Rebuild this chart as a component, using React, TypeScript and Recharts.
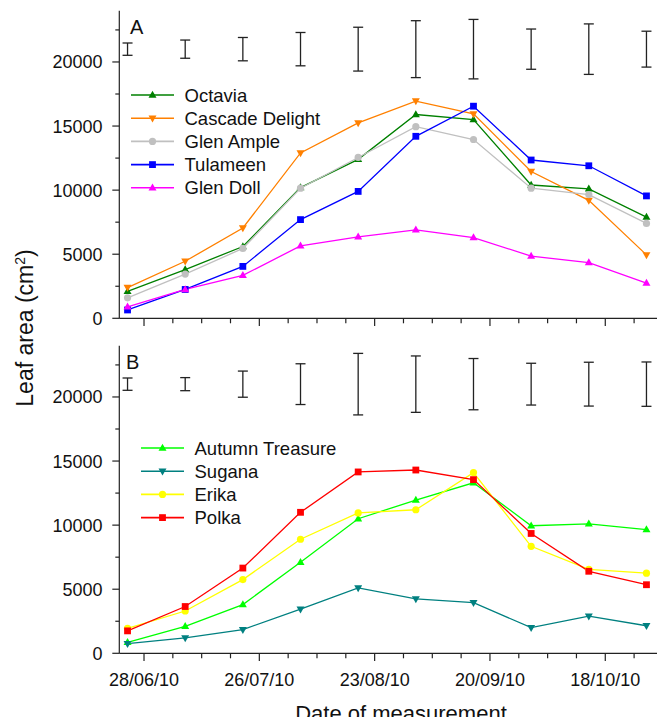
import { ErrorBar, Legend, Line, LineChart, XAxis, YAxis } from 'recharts';

// measurement dates (dd/mm/yy) and the labelled x ticks
const measurementDates = ['24/06/10', '08/07/10', '22/07/10', '05/08/10', '19/08/10', '02/09/10', '16/09/10', '30/09/10', '14/10/10', '28/10/10'];
const majorTickLabels = ['28/06/10', '26/07/10', '23/08/10', '20/09/10', '18/10/10'];

// panel A
const octavia = [2100, 3800, 5600, 10200, 12400, 15900, 15500, 10400, 10100, 7900];
const cascadeDelight = [2400, 4450, 7050, 12900, 15250, 16950, 15950, 11450, 9200, 4950];
const glenAmple = [1600, 3450, 5450, 10150, 12550, 14950, 13950, 10150, 9650, 7400];
const tulameen = [650, 2250, 4050, 7700, 9900, 14200, 16550, 12350, 11900, 9550];
const glenDoll = [900, 2250, 3350, 5650, 6350, 6900, 6300, 4850, 4350, 2750];
const lsdA = [480, 710, 910, 1300, 1710, 2220, 2320, 1570, 1970, 1400];

// panel B
const autumnTreasure = [850, 2100, 3800, 7100, 10500, 11950, 13300, 9950, 10100, 9650];
const sugana = [750, 1200, 1850, 3450, 5100, 4250, 3950, 2000, 2900, 2150];
const erika = [1950, 3300, 5750, 8900, 10950, 11200, 14100, 8350, 6550, 6250];
const polka = [1750, 3650, 6650, 11000, 14150, 14300, 13550, 9350, 6400, 5350];
const lsdB = [480, 510, 1020, 1590, 2400, 2200, 2000, 1630, 1710, 1730];

const lsdCentre = 21000;
const yTicks = [0, 2500, 5000, 7500, 10000, 12500, 15000, 17500, 20000, 22500];

const FONT = '"Liberation Sans", Arial, sans-serif';
const AXIS = '#222';

type Shape = 'up' | 'down' | 'circle' | 'square';
type Series = { name: string; color: string; shape: Shape; values: number[] };

const seriesA: Series[] = [
  { name: 'Octavia', color: '#008000', shape: 'up', values: octavia },
  { name: 'Cascade Delight', color: '#ff8000', shape: 'down', values: cascadeDelight },
  { name: 'Glen Ample', color: '#c0c0c0', shape: 'circle', values: glenAmple },
  { name: 'Tulameen', color: '#0000ff', shape: 'square', values: tulameen },
  { name: 'Glen Doll', color: '#ff00ff', shape: 'up', values: glenDoll },
];

const seriesB: Series[] = [
  { name: 'Autumn Treasure', color: '#00ff00', shape: 'up', values: autumnTreasure },
  { name: 'Sugana', color: '#008080', shape: 'down', values: sugana },
  { name: 'Erika', color: '#ffff00', shape: 'circle', values: erika },
  { name: 'Polka', color: '#ff0000', shape: 'square', values: polka },
];

const toUtc = (s: string) => {
  const [d, m, y] = s.split('/').map(Number);
  return Date.UTC(2000 + y, m - 1, d);
};
const origin = toUtc(majorTickLabels[0]);
const measurementDays = measurementDates.map((s) => Math.round((toUtc(s) - origin) / 86400000));
const xTicks = Array.from({ length: 19 }, (_, i) => i * 7);

function buildRows(series: Series[], lsd: number[]) {
  return measurementDays.map((day, i) => {
    const row: Record<string, number> = { day, lsdCentre, lsd: lsd[i] };
    series.forEach((s) => (row[s.name] = s.values[i]));
    return row;
  });
}

const rowsA = buildRows(seriesA, lsdA);
const rowsB = buildRows(seriesB, lsdB);

function Marker({ shape, cx, cy, color }: { shape: Shape; cx: number; cy: number; color: string }) {
  if (shape === 'up')
    return <polygon points={`${cx},${cy - 4.3} ${cx + 4},${cy + 2.7} ${cx - 4},${cy + 2.7}`} fill={color} />;
  if (shape === 'down')
    return <polygon points={`${cx},${cy + 4.3} ${cx + 4},${cy - 2.7} ${cx - 4},${cy - 2.7}`} fill={color} />;
  if (shape === 'circle') return <circle cx={cx} cy={cy} r={3.6} fill={color} />;
  return <rect x={cx - 3.4} y={cy - 3.4} width={6.8} height={6.8} fill={color} />;
}

function DateTick({ x, y, payload, showLabel }: any) {
  const major = payload.value % 28 === 0;
  return (
    <g>
      <line x1={x} x2={x} y1={y} y2={y + (major ? 7.7 : 5)} stroke={AXIS} strokeWidth={1.2} />
      {showLabel && major && (
        <text x={x} y={y + 32.7} textAnchor="middle" fontSize={18} fontFamily={FONT} fill="#111">
          {majorTickLabels[payload.value / 28]}
        </text>
      )}
    </g>
  );
}

function ValueTick({ x, y, payload }: any) {
  const major = payload.value % 5000 === 0;
  return (
    <g>
      <line x1={x - (major ? 7 : 4)} x2={x} y1={y} y2={y} stroke={AXIS} strokeWidth={1.2} />
      {major && (
        <text x={x - 16.7} y={y} dy="0.36em" textAnchor="end" fontSize={18} fontFamily={FONT} fill="#111">
          {payload.value}
        </text>
      )}
    </g>
  );
}

// legend rows follow the series order, not the sorted payload
function LegendBox({ payload, series }: any) {
  const shown = new Set((payload || []).map((p: any) => p.value));
  const items = (series as Series[]).filter((s) => shown.has(s.name));
  return (
    <svg width={260} height={items.length * 23.2 + 6} style={{ display: 'block' }}>
      {items.map((s, i) => {
        const y = 12 + i * 23.2;
        return (
          <g key={s.name}>
            <line x1={0} x2={43} y1={y} y2={y} stroke={s.color} strokeWidth={1.6} />
            <Marker shape={s.shape} cx={21.5} cy={y} color={s.color} />
            <text x={53.5} y={y} dy="0.36em" fontSize={18.5} fontFamily={FONT} fill="#111">
              {s.name}
            </text>
          </g>
        );
      })}
    </svg>
  );
}

function Panel({ rows, series, showLabels, top, height, marginTop, xAxisHeight, legendPos }: any) {
  return (
    <div style={{ position: 'absolute', left: 0, top }}>
      <LineChart
        width={657}
        height={height}
        data={rows}
        margin={{ top: marginTop, right: 0, bottom: 0, left: 0 }}
      >
        <XAxis
          xAxisId="frame"
          orientation="top"
          type="number"
          dataKey="day"
          domain={[-6, 126.5]}
          allowDataOverflow
          tick={false}
          tickLine={false}
          height={0}
          stroke={AXIS}
          strokeWidth={1.2}
        />
        <XAxis
          type="number"
          dataKey="day"
          domain={[-6, 126.5]}
          allowDataOverflow
          ticks={xTicks}
          interval={0}
          tickSize={0}
          tickMargin={0}
          tickLine={false}
          height={xAxisHeight}
          stroke={AXIS}
          strokeWidth={1.2}
          tick={(p: any) => <DateTick {...p} showLabel={showLabels} />}
        />
        <YAxis
          type="number"
          domain={[0, 24000]}
          allowDataOverflow
          ticks={yTicks}
          interval={0}
          width={111.3}
          tickSize={0}
          tickMargin={0}
          tickLine={false}
          stroke={AXIS}
          strokeWidth={1.2}
          tick={(p: any) => <ValueTick {...p} />}
        />
        <Line
          dataKey="lsdCentre"
          stroke="none"
          dot={false}
          activeDot={false}
          legendType="none"
          isAnimationActive={false}
        >
          <ErrorBar dataKey="lsd" direction="y" width={5} stroke={AXIS} strokeWidth={1.3} isAnimationActive={false} />
        </Line>
        {series.map((s: Series) => (
          <Line
            key={s.name}
            dataKey={s.name}
            name={s.name}
            stroke={s.color}
            strokeWidth={1.3}
            activeDot={false}
            isAnimationActive={false}
            dot={(d: any) => <Marker key={`${s.name}-${d.index}`} shape={s.shape} cx={d.cx} cy={d.cy} color={s.color} />}
          />
        ))}
        <Legend
          layout="horizontal"
          verticalAlign="middle"
          align="center"
          wrapperStyle={{ left: legendPos[0], top: legendPos[1], width: 260 }}
          content={(props: any) => <LegendBox {...props} series={series} />}
        />
      </LineChart>
    </div>
  );
}

export default function App() {
  return (
    <div style={{ position: 'relative', width: 657, height: 709, fontFamily: FONT }}>
      <Panel rows={rowsA} series={seriesA} showLabels={false} top={0} height={322.3} marginTop={2.7} xAxisHeight={12} legendPos={[123, 75]} />
      <Panel rows={rowsB} series={seriesB} showLabels top={330} height={355.3} marginTop={7.7} xAxisHeight={40} legendPos={[133, 97.7]} />
      <svg
        width={657}
        height={717}
        style={{ position: 'absolute', left: 0, top: 0, pointerEvents: 'none' }}
        fontFamily={FONT}
      >
        <text x={122} y={26} fontSize={20} fill="#111">A</text>
        <text x={118} y={361} fontSize={20} fill="#111">B</text>
        <text transform="translate(25.3,320) rotate(-90)" textAnchor="middle" fontSize={23} fill="#111">
          Leaf area (cm<tspan dy={-8} fontSize={14}>2</tspan>
          <tspan dy={8} fontSize={23}>)</tspan>
        </text>
        <text x={393} y={712.5} textAnchor="middle" fontSize={22} fill="#111">
          Date of measurement
        </text>
      </svg>
    </div>
  );
}
